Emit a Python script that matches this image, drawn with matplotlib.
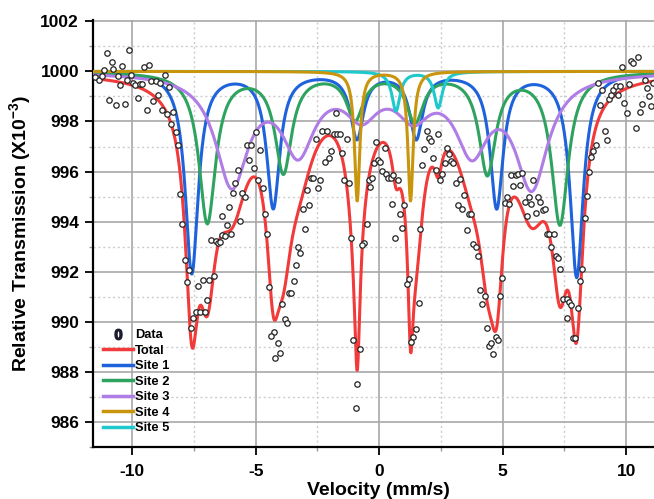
import matplotlib
matplotlib.use("Agg")
import matplotlib.pyplot as plt
from matplotlib.lines import Line2D
from matplotlib.ticker import MultipleLocator
import numpy as np

plt.rcParams['font.family'] = ['Liberation Sans', 'DejaVu Sans']
plt.rcParams['font.weight'] = 'bold'
plt.rcParams['axes.unicode_minus'] = False
plt.rcParams['mathtext.fontset'] = 'custom'
plt.rcParams['mathtext.rm'] = 'Liberation Sans:bold'
plt.rcParams['mathtext.bf'] = 'Liberation Sans:bold'

vel_data = [
    -11.51, -11.34, -11.21, -11.04, -11.13, -10.84, -10.77, -10.93, -10.66, -10.50,
    -10.58, -10.40, -10.31, -10.21, -10.13, -10.04, -9.96, -9.88, -9.77, -9.70,
    -9.59, -9.51, -9.42, -9.31, -9.23, -9.15, -9.05, -8.96, -8.88, -8.80,
    -8.69, -8.61, -8.51, -8.45, -8.34, -8.24, -8.16, -8.07, -7.97, -7.88,
    -7.70, -7.80, -7.35, -7.15, -6.96, -6.89, -6.80, -6.70, -6.61, -6.53,
    -6.43, -6.35, -6.26, -6.16, -6.07, -5.99, -6.35, -5.91, -5.83, -5.72,
    -5.62, -5.54, -5.45, -5.35, -5.26, -5.18, -5.08, -4.98, -4.81, -4.89,
    -4.72, -4.64, -4.54, -4.45, -3.64, -3.56, -3.45, -3.38, -3.29, -3.19,
    -3.10, -3.01, -2.94, -2.84, -2.78, -2.70, -2.49, -2.40, -2.57, -2.30,
    -2.21, -2.13, -2.03, -1.94, -1.84, -1.76, -1.70, -1.60, -1.49, -1.41,
    -1.32, -1.24, -1.13, -0.62, -0.68, -0.51, -0.43,
    -7.62, -7.53, -7.43, -7.26, -7.07, -3.94, -3.83, -3.73, -4.27, -4.38,
    -4.11, -4.02, -4.21, -1.05, -0.78, -0.89, -0.95,
    -0.37, -0.31, -0.20, -0.14, -0.05, 0.03, 0.13, 0.22, 0.29, 0.37,
    0.46, 0.52, 0.57, 0.65, 0.75, 0.84, 0.94, 1.02, 1.11, 1.21,
    1.65, 1.75, 1.83, 1.92, 2.02, 2.10, 2.19, 2.29, 2.37, 2.46,
    2.56, 2.65, 2.75, 2.83, 2.92, 3.00, 3.10, 3.18, 3.27, 3.37,
    3.45, 3.54, 3.64, 3.73, 3.81, 3.91, 3.99, 4.08, 4.27, 4.89,
    4.99, 5.08, 5.16, 5.26, 5.35, 5.43, 5.53, 5.62, 5.70, 5.80,
    5.89, 5.97, 6.07, 6.16, 6.24, 6.34, 6.43, 6.53, 6.62, 6.70,
    6.80, 6.89, 6.97, 7.07, 7.16, 7.24, 7.34, 7.43, 7.59, 8.15,
    8.23, 8.32, 8.42, 8.50, 8.59, 8.67, 8.77, 8.86, 8.94, 9.04,
    9.13, 9.21, 9.31, 9.40, 9.48, 9.58, 9.67, 9.75, 9.85, 9.93,
    10.02, 10.12, 10.21, 10.29, 10.39, 10.47, 10.56, 10.66, 10.75, 10.83,
    10.93, 11.02, 11.10,
    1.63, 1.48, 1.38, 1.29, 4.18, 4.35, 4.45, 4.54, 4.62, 4.72,
    4.81, 7.69, 7.78, 7.59, 8.04, 7.84, 7.94,
]
trans_data = [
    999.76, 999.67, 999.81, 1000.73, 1000.07, 1000.37, 1000.11, 998.87, 998.67, 999.47,
    999.83, 1000.20, 998.70, 999.67, 1000.84, 999.87, 999.55, 999.47, 998.94, 999.50,
    999.50, 1000.16, 998.47, 1000.27, 999.63, 998.83, 999.63, 999.07, 999.54, 998.47,
    999.84, 998.30, 999.39, 997.88, 998.38, 997.58, 997.05, 995.11, 993.89, 992.48,
    992.06, 991.57, 991.41, 991.66, 990.89, 991.66, 993.25, 991.82, 993.23, 993.16,
    993.20, 993.45, 993.43, 993.85, 994.58, 993.52, 994.24, 995.13, 995.55, 996.08,
    994.02, 995.15, 994.98, 997.08, 996.47, 997.05, 996.15, 997.57, 996.87, 995.67,
    995.35, 994.29, 993.52, 991.37, 991.17, 991.17, 991.63, 992.26, 992.99, 992.76,
    994.52, 993.69, 995.25, 994.66, 995.75, 995.75, 995.35, 995.68, 997.31, 997.61,
    996.39, 997.61, 996.55, 996.84, 997.48, 998.34, 997.48, 997.50, 996.73, 995.68,
    997.32, 995.55, 993.33, 993.16, 993.07, 993.89, 995.68,
    989.77, 990.15, 990.40, 990.40, 990.40, 990.73, 990.11, 989.95, 989.58, 989.42,
    989.16, 988.75, 988.54, 989.28, 988.91, 987.52, 986.57,
    995.38, 995.75, 996.35, 997.18, 996.48, 996.39, 996.04, 996.95, 995.91, 995.75,
    995.75, 994.69, 995.88, 993.36, 995.68, 994.32, 993.76, 994.65, 991.50, 991.69,
    993.69, 996.28, 996.92, 997.61, 997.34, 997.21, 996.55, 996.06, 997.48, 995.68,
    995.91, 996.35, 996.95, 996.71, 996.41, 996.35, 995.54, 994.66, 995.72, 994.49,
    995.06, 993.65, 994.29, 994.29, 993.12, 993.00, 992.63, 991.26, 991.04, 991.04,
    991.73, 994.75, 994.98, 994.71, 995.88, 995.42, 995.88, 995.91, 995.48, 995.95,
    994.79, 994.22, 994.98, 994.70, 995.68, 994.36, 994.98, 994.79, 994.45, 994.49,
    993.49, 993.49, 993.00, 993.49, 992.62, 992.54, 992.10, 990.90, 990.90, 991.63,
    992.10, 994.16, 995.02, 995.99, 996.57, 996.81, 997.05, 999.54, 998.67, 999.27,
    997.61, 997.28, 998.91, 999.07, 999.27, 999.43, 999.07, 999.43, 1000.16, 998.72,
    998.34, 999.50, 1000.42, 1000.33, 997.72, 1000.56, 998.37, 998.70, 999.64, 999.34,
    999.00, 998.61, 999.54,
    990.74, 989.71, 989.38, 989.18, 990.73, 989.77, 989.02, 989.14, 988.70, 989.38,
    989.28, 990.80, 990.66, 990.17, 990.57, 989.37, 989.37,
]

# fitted sub-spectra: line positions (mm/s), depths (x10^-3) and half widths
site1_pos = [-7.59, -4.29, -0.90, 1.50, 4.76, 8.00]
site1_depth = [8.03, 5.38, 2.60, 2.60, 5.38, 8.17]
site1_hwhm = 0.32

site2_pos = [-6.96, -3.88, -0.98, 1.45, 4.38, 7.32]
site2_depth = [6.00, 3.95, 1.80, 1.90, 4.00, 6.05]
site2_hwhm = 0.41

site3_pos = [-5.97, -3.28, -0.71, 1.38, 3.75, 6.18]
site3_depth = [4.38, 2.95, 1.45, 1.45, 2.88, 4.42]
site3_hwhm = 0.80

site4_pos = [-0.89, 1.27]
site4_depth = [5.16, 5.16]
site4_hwhm = 0.13

site5_pos = [0.68, 2.39]
site5_depth = [1.57, 1.44]
site5_hwhm = 0.20

site_labels = ['Site 1', 'Site 2', 'Site 3', 'Site 4', 'Site 5']
baseline = 1000.0


def absorption(v, pos, depth, hwhm):
    a = np.zeros_like(v)
    for c, d in zip(pos, depth):
        a += d * hwhm ** 2 / ((v - c) ** 2 + hwhm ** 2)
    return a


sites = [
    (site1_pos, site1_depth, site1_hwhm),
    (site2_pos, site2_depth, site2_hwhm),
    (site3_pos, site3_depth, site3_hwhm),
    (site4_pos, site4_depth, site4_hwhm),
    (site5_pos, site5_depth, site5_hwhm),
]
site_colors = ['#1f63dc', '#2ea35f', '#b07ce6', '#c9950c', '#1ec8cc']
site_z = [3, 3, 3, 4.5, 4]

v = np.linspace(-12, 12, 2400)
absorbs = [absorption(v, *s) for s in sites]
total = baseline - np.sum(absorbs, axis=0)

fig = plt.figure(figsize=(6.54, 4.99), dpi=100)
ax = fig.add_axes([0.1422, 0.1042, 0.8578, 0.8561])

red = '#f23a3a'
ax.plot(v, total, color=red, lw=2.2, zorder=2)
handles = [Line2D([], [], ls='none', marker='$0$', color='#1c1c30', markersize=7.5)]
handles.append(Line2D([], [], color=red, lw=2.5))
for a, col, z in zip(absorbs, site_colors, site_z):
    ax.plot(v, baseline - a, color=col, lw=2.2, zorder=z)
    handles.append(Line2D([], [], color=col, lw=2.5))

ax.plot(vel_data, trans_data, ls='none', marker='o', ms=3.9, mfc='white',
        mec='#222222', mew=0.9, zorder=6)

ax.set_xlim(-11.59, 11.13)
ax.set_ylim(985, 1002.06)
ax.xaxis.set_major_locator(MultipleLocator(5))
ax.xaxis.set_minor_locator(MultipleLocator(2.5))
ax.yaxis.set_major_locator(MultipleLocator(2))
ax.yaxis.set_minor_locator(MultipleLocator(1))
ax.set_yticks(np.arange(986, 1003, 2))

ax.grid(which='major', color='#a8a8a8', lw=1.2, ls='-')
ax.grid(which='minor', color='#cccccc', lw=1.0, ls=(0, (1.5, 2)))
ax.set_axisbelow(True)

for s in ['top', 'right']:
    ax.spines[s].set_visible(False)
for s in ['left', 'bottom']:
    ax.spines[s].set_linewidth(1.6)
    ax.spines[s].set_color('black')

ax.tick_params(which='major', direction='out', length=6, width=1.3,
               labelsize=12.5, colors='black')
ax.tick_params(axis='x', which='major', pad=6)
ax.tick_params(axis='y', which='major', pad=4)
ax.tick_params(which='minor', direction='out', length=3, width=1.0, color='#999999')

ax.set_xlabel('Velocity (mm/s)', fontsize=14, fontweight='bold')
ax.set_ylabel('Relative Transmission (X10$^{-3}$)', fontsize=14, fontweight='bold')
ax.xaxis.set_label_coords(0.509, -0.083)
ax.yaxis.set_label_coords(-0.105, 0.5)

ax.legend(handles, ['Data', 'Total'] + site_labels, loc='upper left',
          bbox_to_anchor=(0.017, 0.276), frameon=False,
          prop={'weight': 'bold', 'size': 9.3}, handlelength=2.35,
          handletextpad=0.15, labelspacing=0.27, borderpad=0, borderaxespad=0)

fig.savefig('out.png', dpi=100)
